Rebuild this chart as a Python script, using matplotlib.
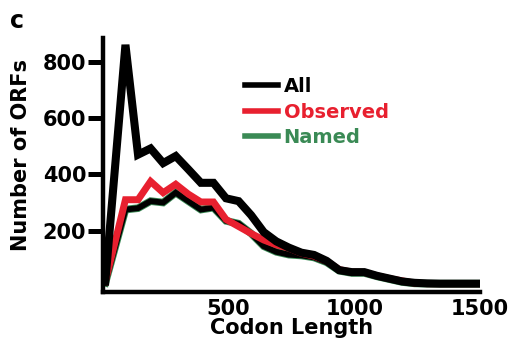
import matplotlib
matplotlib.use("Agg")
import matplotlib.pyplot as plt

plt.rcParams['font.family'] = ['DejaVu Sans']
plt.rcParams['font.weight'] = 'bold'

codon_length = [10, 90, 140, 190, 240, 290, 340, 390, 440, 490, 540, 590, 640, 690,
                740, 790, 840, 890, 940, 990, 1040, 1090, 1140, 1190, 1240, 1290,
                1340, 1390, 1440, 1490]
all_orfs = [20, 860, 470, 492, 440, 465, 418, 370, 370, 315, 305, 255, 195, 162,
            140, 122, 114, 93, 60, 53, 53, 40, 30, 20, 15, 13, 12, 12, 12, 12]
observed = [20, 310, 310, 375, 335, 365, 330, 302, 302, 240, 215, 190, 167, 150,
            138, 120, 110, 92, 62, 53, 52, 40, 30, 22, 14, 12, 12, 12, 12, 12]
named = [15, 275, 280, 305, 300, 335, 305, 275, 282, 235, 225, 190, 145, 125,
         115, 112, 105, 88, 58, 50, 50, 38, 28, 18, 13, 12, 12, 12, 12, 12]

yticks = [200, 400, 600, 800]
xticks = [500, 1000, 1500]

RED = '#e8202f'
GREEN = '#3a8a55'

fig = plt.figure(figsize=(5.09, 3.49), dpi=100)
ax = fig.add_axes([0.202, 0.163, 0.741, 0.728])

ax.plot(codon_length, named, color=GREEN, lw=5.5, solid_joinstyle='miter', zorder=2)
ax.plot(codon_length, named, color='black', lw=4.2, solid_joinstyle='miter', zorder=2.1)
ax.plot(codon_length, observed, color=RED, lw=5.0, solid_joinstyle='miter', zorder=2.2)
ax.plot(codon_length, all_orfs, color='black', lw=5.8, solid_joinstyle='miter', zorder=3)

ax.set_xlim(0, 1500)
ax.set_ylim(-18, 884)
ax.set_xticks(xticks)
ax.set_yticks(yticks)
ax.tick_params(axis='y', length=11, width=3.6, labelsize=15, pad=1)
ax.tick_params(axis='x', length=0, labelsize=15, pad=5)

for s in ['top', 'right']:
    ax.spines[s].set_visible(False)
for s in ['left', 'bottom']:
    ax.spines[s].set_linewidth(3.2)

ax.set_xlabel('Codon Length', fontsize=15, fontweight='bold', labelpad=-1)
ax.set_ylabel('Number of ORFs', fontsize=15, fontweight='bold')
ax.yaxis.set_label_coords(-0.19, 0.54)

# legend
from matplotlib.lines import Line2D
handles = [Line2D([], [], color='black', lw=4),
           Line2D([], [], color=RED, lw=4),
           Line2D([], [], color=GREEN, lw=4)]
leg = ax.legend(handles, ['All', 'Observed', 'Named'], loc='upper left',
                bbox_to_anchor=(0.33, 0.915), frameon=False, fontsize=14,
                handlelength=1.7, handletextpad=0.3, labelspacing=0.33,
                labelcolor=['black', RED, GREEN])

fig.text(0.02, 0.975, 'c', fontsize=17, fontweight='bold', va='top', ha='left')

fig.savefig('out.png', dpi=100)
